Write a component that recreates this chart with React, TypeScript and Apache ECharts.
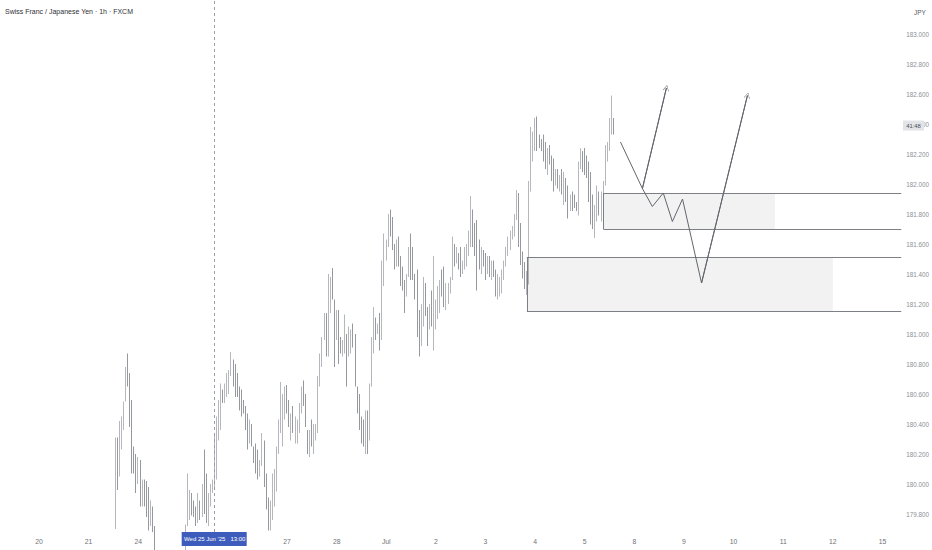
import React, { useEffect, useRef } from 'react';
import * as echarts from 'echarts';

// time axis: one unit = one trading hour, day labels every 24 units
const dayLabels = ['20', '21', '24', '25', '26', '27', '28', 'Jul', '2', '3', '4', '5', '8', '9', '10', '11', '12', '15'];
const priceTicks = [179.8, 180.0, 180.2, 180.4, 180.6, 180.8, 181.0, 181.2, 181.4, 181.6, 181.8, 182.0, 182.2, 182.4, 182.6, 182.8, 183.0];

// hourly bars, first one at hour 37; open of each bar = previous close
const firstHour = 37;
const firstOpen = 180.0;
const highs = [
  180.31, 180.31, 180.42, 180.45, 180.55, 180.78, 180.87, 180.74, 180.56, 180.25,
  180.20, 180.18, 180.16, 180.03, 180.03, 180.02, 179.98, 179.89, 179.85, 179.72,
  179.66, 179.62, 179.55, 179.50, 179.48, 179.45, 179.50, 179.52, 179.55, 179.58,
  179.60, 179.62, 179.64, 179.66, 179.73, 180.07, 179.96, 179.94, 179.89, 179.85,
  179.94, 179.89, 180.00, 180.23, 180.07, 179.94, 180.00, 180.03, 180.34, 180.45,
  180.56, 180.67, 180.63, 180.67, 180.74, 180.76, 180.88, 180.83, 180.80, 180.74,
  180.65, 180.63, 180.56, 180.52, 180.47, 180.43, 180.40, 180.25, 180.27, 180.23,
  180.16, 180.34, 180.29, 180.07, 179.91, 179.89, 180.07, 180.10, 180.25, 180.43,
  180.68, 180.60, 180.65, 180.66, 180.56, 180.47, 180.52, 180.45, 180.43, 180.54,
  180.65, 180.69, 180.60, 180.36, 180.36, 180.43, 180.40, 180.40, 180.72, 180.87,
  180.98, 181.14, 181.14, 181.40, 181.38, 181.44, 181.23, 181.16, 181.16, 180.98,
  180.96, 181.13, 181.00, 181.05, 181.03, 181.07, 181.00, 180.65, 180.60, 180.45,
  180.43, 180.49, 180.49, 180.67, 180.98, 181.18, 181.11, 181.07, 181.14, 181.49,
  181.67, 181.63, 181.80, 181.83, 181.78, 181.60, 181.63, 181.65, 181.52, 181.45,
  181.36, 181.40, 181.58, 181.67, 181.58, 181.40, 181.43, 181.16, 181.20, 181.38,
  181.34, 181.18, 181.20, 181.29, 181.52, 181.23, 181.32, 181.36, 181.43, 181.45,
  181.34, 181.34, 181.38, 181.65, 181.60, 181.58, 181.54, 181.58, 181.49, 181.58,
  181.60, 181.69, 181.92, 181.83, 181.74, 181.76, 181.63, 181.58, 181.56, 181.54,
  181.52, 181.52, 181.49, 181.49, 181.43, 181.40, 181.38, 181.43, 181.49, 181.58,
  181.65, 181.69, 181.72, 181.80, 181.96, 181.94, 181.74, 181.55, 181.48, 181.42,
  182.02, 182.38, 182.35, 182.44, 182.45, 182.33, 182.30, 182.33, 182.28, 182.24,
  182.26, 182.19, 182.17, 182.10, 182.10, 182.06, 182.10, 182.08, 182.04, 181.99,
  181.93, 181.95, 181.93, 181.88, 182.15, 182.24, 182.22, 182.24, 182.19, 182.15,
  182.08, 181.93, 181.86, 181.99, 181.95, 181.95, 182.02, 182.26, 182.28, 182.44,
  182.59, 182.44,
];
const lows = [
  179.70, 179.96, 180.05, 180.23, 180.36, 180.55, 180.65, 180.38, 180.07, 180.07,
  179.94, 180.00, 179.85, 179.85, 179.85, 179.78, 179.69, 179.72, 179.68, 179.55,
  179.50, 179.45, 179.40, 179.35, 179.32, 179.30, 179.36, 179.38, 179.40, 179.42,
  179.46, 179.48, 179.50, 179.52, 179.55, 179.72, 179.76, 179.79, 179.78, 179.72,
  179.74, 179.76, 179.78, 179.80, 179.74, 179.72, 179.85, 179.94, 179.98, 180.03,
  180.29, 180.36, 180.54, 180.54, 180.58, 180.60, 180.72, 180.65, 180.58, 180.58,
  180.49, 180.45, 180.47, 180.36, 180.23, 180.27, 180.25, 180.14, 180.07, 180.03,
  180.05, 180.12, 179.98, 179.83, 179.69, 179.69, 179.76, 179.85, 179.95, 180.20,
  180.34, 180.25, 180.43, 180.47, 180.38, 180.29, 180.34, 180.27, 180.27, 180.34,
  180.47, 180.52, 180.38, 180.20, 180.18, 180.25, 180.20, 180.29, 180.34, 180.65,
  180.78, 180.96, 180.85, 180.85, 181.14, 181.23, 180.78, 180.96, 180.80, 180.87,
  180.85, 180.87, 180.65, 180.85, 180.87, 180.91, 180.65, 180.47, 180.36, 180.27,
  180.25, 180.20, 180.20, 180.29, 180.65, 180.87, 180.96, 181.00, 180.89, 180.96,
  181.32, 181.49, 181.58, 181.65, 181.56, 181.43, 181.45, 181.45, 181.32, 181.29,
  181.14, 181.25, 181.38, 181.36, 181.36, 181.23, 180.98, 180.85, 180.92, 181.05,
  181.12, 180.92, 181.03, 181.05, 180.89, 181.03, 181.10, 181.14, 181.25, 181.18,
  181.16, 181.20, 181.27, 181.36, 181.45, 181.47, 181.43, 181.38, 181.40, 181.43,
  181.45, 181.52, 181.58, 181.58, 181.52, 181.29, 181.43, 181.40, 181.45, 181.36,
  181.40, 181.38, 181.36, 181.38, 181.25, 181.23, 181.25, 181.27, 181.36, 181.45,
  181.52, 181.56, 181.63, 181.65, 181.76, 181.58, 181.46, 181.37, 181.30, 181.26,
  181.33, 181.95, 182.15, 182.22, 182.22, 182.24, 182.22, 182.15, 182.10, 182.06,
  182.13, 182.02, 181.95, 181.99, 181.97, 181.95, 181.93, 181.86, 181.88, 181.77,
  181.82, 181.82, 181.84, 181.82, 181.79, 182.10, 182.08, 182.06, 182.04, 181.88,
  181.73, 181.70, 181.64, 181.75, 181.79, 181.75, 181.79, 181.99, 182.15, 182.22,
  182.33, 182.33,
];
const closes = [
  180.20, 180.12, 180.38, 180.42, 180.55, 180.72, 180.70, 180.45, 180.15, 180.10,
  180.05, 180.12, 179.92, 179.98, 179.90, 179.85, 179.76, 179.80, 179.70, 179.60,
  179.52, 179.48, 179.42, 179.38, 179.35, 179.40, 179.45, 179.42, 179.50, 179.48,
  179.55, 179.52, 179.60, 179.62, 179.72, 179.85, 179.90, 179.82, 179.80, 179.78,
  179.86, 179.82, 179.95, 179.88, 179.78, 179.90, 179.98, 180.00, 180.28, 180.40,
  180.50, 180.60, 180.58, 180.64, 180.70, 180.74, 180.78, 180.68, 180.62, 180.60,
  180.52, 180.50, 180.48, 180.40, 180.32, 180.35, 180.25, 180.18, 180.12, 180.08,
  180.14, 180.22, 180.02, 179.88, 179.75, 179.84, 179.98, 180.05, 180.22, 180.38,
  180.45, 180.55, 180.58, 180.50, 180.40, 180.42, 180.36, 180.38, 180.40, 180.50,
  180.60, 180.55, 180.35, 180.25, 180.32, 180.30, 180.34, 180.38, 180.68, 180.82,
  180.97, 181.05, 180.95, 181.30, 181.32, 181.23, 181.00, 181.10, 180.92, 180.90,
  180.94, 180.98, 180.88, 180.96, 180.98, 180.95, 180.65, 180.52, 180.40, 180.32,
  180.30, 180.38, 180.30, 180.65, 180.90, 181.05, 181.02, 181.04, 181.00, 181.42,
  181.55, 181.60, 181.72, 181.70, 181.58, 181.52, 181.56, 181.48, 181.38, 181.32,
  181.30, 181.38, 181.50, 181.45, 181.38, 181.30, 181.05, 181.00, 181.12, 181.25,
  181.15, 181.08, 181.15, 181.10, 181.15, 181.18, 181.25, 181.32, 181.30, 181.22,
  181.28, 181.30, 181.36, 181.55, 181.50, 181.52, 181.46, 181.44, 181.46, 181.52,
  181.56, 181.64, 181.70, 181.65, 181.58, 181.50, 181.48, 181.50, 181.47, 181.44,
  181.45, 181.42, 181.44, 181.40, 181.30, 181.32, 181.35, 181.40, 181.47, 181.55,
  181.60, 181.66, 181.68, 181.78, 181.85, 181.65, 181.50, 181.42, 181.34, 181.36,
  181.98, 182.25, 182.30, 182.36, 182.28, 182.26, 182.24, 182.18, 182.14, 182.18,
  182.15, 182.06, 182.02, 182.05, 182.00, 182.02, 181.96, 181.98, 181.92, 181.86,
  181.88, 181.86, 181.85, 181.84, 182.12, 182.18, 182.14, 182.10, 182.08, 181.95,
  181.80, 181.76, 181.80, 181.88, 181.84, 181.86, 181.99, 182.20, 182.25, 182.38,
  182.42, 182.39,
];

// drawings: [startHour, endHour of fill, top, bottom]
const upperZone = [273, 356, 181.94, 181.7];
const lowerZone = [236, 384, 181.51, 181.15];
const pathUp = [[281.3, 182.28], [291.9, 181.97], [303.5, 182.64]];
const pathDeep = [[291.9, 181.97], [296.7, 181.85], [302.0, 181.94], [306.4, 181.75], [311.3, 181.9], [320.5, 181.34], [342.7, 182.59]];
const crosshairHour = 85;
const crosshairText = "Wed 25 Jun '25   13:00";
const countdownText = '41:48';
const titleText = 'Swiss Franc / Japanese Yen · 1h · FXCM';

const X_MIN = -18.85;
const X_MAX = 417.1;
const Y_MIN = 179.68;
const Y_MAX = 183.227;
const FONT = '"Liberation Sans", Arial, sans-serif';
const CHEVRON = 'path://M0,0L5,8L4.4,8.6L0,1.3L-4.4,8.6L-5,8Z';

function zoneLines(z: number[]) {
  const [x0, , top, bottom] = z;
  return [
    [{ coord: [x0, top] }, { coord: [X_MAX, top] }],
    [{ coord: [x0, bottom] }, { coord: [X_MAX, bottom] }],
    [{ coord: [x0, top] }, { coord: [x0, bottom] }],
  ];
}

function arrowSeries(pts: number[][]) {
  const n = pts.length;
  return {
    type: 'line',
    data: pts,
    symbol: 'none',
    z: 6,
    silent: true,
    lineStyle: { color: '#63666d', width: 1 },
    markLine: {
      silent: true,
      symbol: ['none', CHEVRON],
      symbolSize: 6,
      label: { show: false },
      lineStyle: { color: '#63666d', width: 1, type: 'solid' },
      data: [[{ coord: pts[n - 2] }, { coord: pts[n - 1] }]],
    },
  };
}

export default function App() {
  const ref = useRef<HTMLDivElement>(null);

  useEffect(() => {
    if (!ref.current) return;
    const chart = echarts.init(ref.current, null, { renderer: 'svg' });
    const bars = closes.map((c, i) => [firstHour + i, i === 0 ? firstOpen : closes[i - 1], c, lows[i], highs[i]]);

    chart.setOption({
      animation: false,
      backgroundColor: '#ffffff',
      grid: { left: 0, right: 30, top: 0, bottom: 18 },
      xAxis: {
        type: 'value',
        min: X_MIN,
        max: X_MAX,
        axisLine: { show: false },
        axisTick: { show: false },
        splitLine: { show: false },
        axisLabel: {
          // 25 and 26 sit under the crosshair's date label
          customValues: dayLabels.map((_, i) => i * 24),
          formatter: (v: number) => (Math.abs(v - crosshairHour) < 20 ? '' : dayLabels[Math.round(v / 24)]),
          color: '#707278',
          fontSize: 6.8,
          fontFamily: FONT,
          margin: 6,
        },
      },
      yAxis: {
        type: 'value',
        position: 'right',
        min: Y_MIN,
        max: Y_MAX,
        axisLine: { show: false },
        axisTick: { show: false },
        splitLine: { show: false },
        axisLabel: {
          customValues: priceTicks,
          formatter: (v: number) => v.toFixed(3),
          color: '#8d8f94',
          fontSize: 6.3,
          fontFamily: FONT,
          margin: 5,
        },
      },
      series: [
        {
          type: 'candlestick',
          data: bars,
          encode: { x: 0, y: [1, 2, 3, 4] },
          barWidth: 1,
          clip: true,
          z: 3,
          itemStyle: {
            color: '#cbcdd1',
            color0: '#7a7d83',
            borderColor: '#a2a5ab',
            borderColor0: '#7a7d83',
            borderWidth: 0.8,
          },
          markArea: {
            silent: true,
            itemStyle: { color: '#f2f2f2' },
            data: [upperZone, lowerZone].map((z) => [{ coord: [z[0], z[2]] }, { coord: [z[1], z[3]] }]),
          },
          markLine: {
            silent: true,
            symbol: 'none',
            label: { show: false },
            lineStyle: { color: '#7c7f86', width: 1, type: 'solid' },
            data: [
              ...zoneLines(upperZone),
              ...zoneLines(lowerZone),
              { xAxis: crosshairHour, lineStyle: { color: '#9a9da5', type: [3, 3], width: 1 } },
            ],
          },
        },
        arrowSeries(pathUp),
        arrowSeries(pathDeep),
      ],
    });

    const cx = chart.convertToPixel({ xAxisIndex: 0 }, crosshairHour) as number;
    const ly = chart.convertToPixel({ yAxisIndex: 0 }, closes[closes.length - 1]) as number;
    chart.setOption({
      graphic: [
        { type: 'text', left: 5, top: 8, style: { text: titleText, fill: '#2f3137', font: `7px ${FONT}` } },
        { type: 'text', left: 914, top: 9, style: { text: 'JPY', fill: '#55585f', font: `6.4px ${FONT}` } },
        { type: 'rect', shape: { x: cx - 33, y: 532, width: 65, height: 14 }, style: { fill: '#3e5cbc' }, z: 10 },
        {
          type: 'text',
          x: cx,
          y: 539,
          z: 11,
          style: { text: crosshairText, fill: '#ffffff', font: `6px ${FONT}`, align: 'center', verticalAlign: 'middle' },
        },
        { type: 'rect', shape: { x: 903, y: ly - 5, width: 21, height: 10 }, style: { fill: '#e3e4e8' }, z: 10 },
        {
          type: 'text',
          x: 913.5,
          y: ly,
          z: 11,
          style: { text: countdownText, fill: '#4a4d55', font: `5.9px ${FONT}`, align: 'center', verticalAlign: 'middle' },
        },
      ],
    });

    return () => chart.dispose();
  }, []);

  return <div ref={ref} style={{ position: 'fixed', left: 0, top: 0, width: 932, height: 550 }} />;
}
